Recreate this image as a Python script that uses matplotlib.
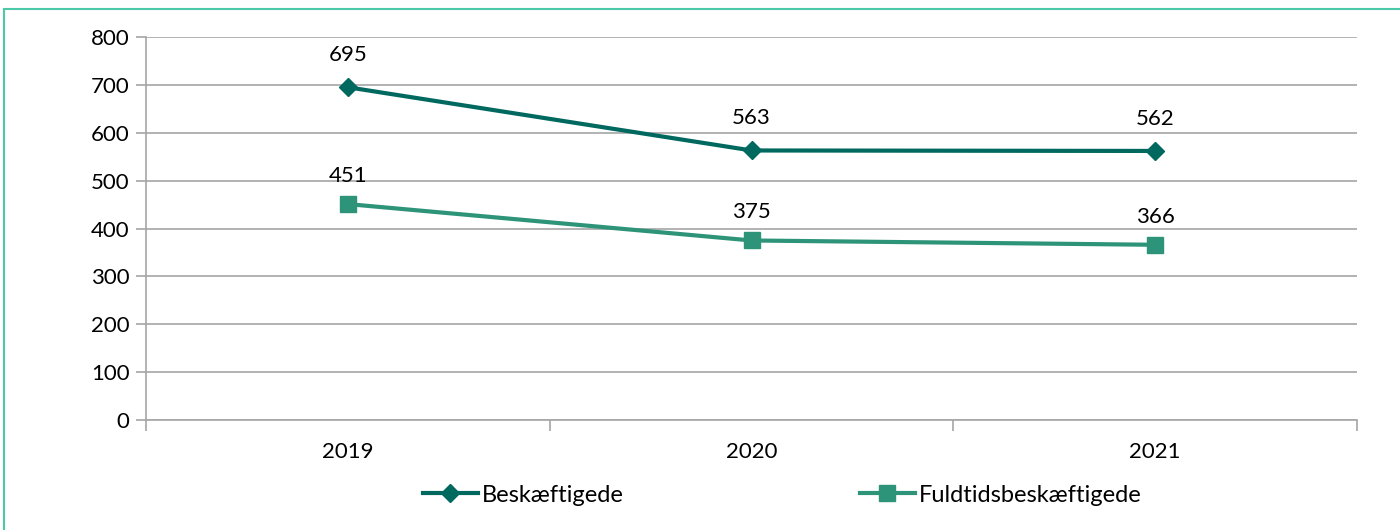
import matplotlib.pyplot as plt
from matplotlib.patches import Rectangle

years = ["2019", "2020", "2021"]
beskaeftigede = [695, 563, 562]
fuldtids = [451, 375, 366]

plt.rcParams["font.family"] = ["Lato", "DejaVu Sans"]

fig = plt.figure(figsize=(14, 5.3), dpi=100)
ax = fig.add_axes([0.1043, 0.2075, 0.865, 0.7227])

x = [i + 0.5 for i in range(len(years))]
ax.plot(x, beskaeftigede, color="#00695F", lw=3, marker="D", markersize=9,
        label="Beskæftigede", zorder=3)
ax.plot(x, fuldtids, color="#2E9479", lw=3, marker="s", markersize=11,
        label="Fuldtidsbeskæftigede", zorder=3)

for xi, v in zip(x, beskaeftigede):
    ax.annotate(str(v), (xi, v), xytext=(0, 16), textcoords="offset points",
                ha="center", va="bottom", fontsize=16)
for xi, v in zip(x, fuldtids):
    ax.annotate(str(v), (xi, v), xytext=(0, 13), textcoords="offset points",
                ha="center", va="bottom", fontsize=16)

ax.set_xlim(0, 3)
ax.set_ylim(0, 800)
ax.set_yticks(range(0, 801, 100))
ax.set_xticks([0, 1, 2, 3])
ax.set_xticklabels([])
ax.set_xticks(x, minor=True)
ax.set_xticklabels(years, minor=True)
ax.tick_params(axis="x", which="major", length=8, color="#A6A6A6", width=1.2)
ax.tick_params(axis="x", which="minor", length=0, pad=16, labelsize=16)
ax.tick_params(axis="y", length=7, color="#A6A6A6", width=1.2, labelsize=16, pad=5)
ax.yaxis.grid(True, color="#A6A6A6", lw=1.2)
ax.set_axisbelow(True)
for s in ["top", "right"]:
    ax.spines[s].set_visible(False)
for s in ["left", "bottom"]:
    ax.spines[s].set_color("#A6A6A6")
    ax.spines[s].set_linewidth(1.2)

fig.legend(loc="center", bbox_to_anchor=(0.559, 0.066), ncol=2, frameon=False,
           fontsize=17, handlelength=2.3, handletextpad=0.2, columnspacing=10)

fig.patches.append(Rectangle((0.003, -0.05), 1.1, 1.033, transform=fig.transFigure,
                             fill=False, edgecolor="#4CC9A8", lw=1.5))

fig.savefig("out.png", dpi=100)
